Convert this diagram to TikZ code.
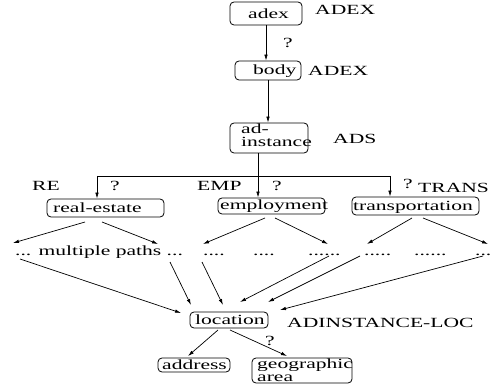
\documentclass[tikz,border=0pt]{standalone}
\usepackage{fontspec}
\setmainfont[FakeStretch=1.54]{Liberation Serif}
\usetikzlibrary{arrows.meta}
\begin{document}
\begin{tikzpicture}[x=1pt,y=-1pt,
  box/.style={draw, rounded corners=4pt, line width=0.8pt, inner sep=0pt},
  txt/.style={inner sep=0pt, anchor=base west, font=\fontsize{14}{14}\selectfont},
  arr/.style={-{Latex[length=6pt,width=3.5pt]}, line width=0.7pt},
  ln/.style={line width=0.7pt}]
\useasboundingbox (0,0) rectangle (492,387);
% boxes
\node[box, minimum width=72pt, minimum height=23pt] (adex) at (266,13.5) {};
\node[box, minimum width=66pt, minimum height=19pt] (body) at (268,70.5) {};
\node[box, minimum width=78pt, minimum height=30pt] (adinst) at (269,138) {};
\node[box, minimum width=117pt, minimum height=18pt] (re) at (105.5,208) {};
\node[box, minimum width=107pt, minimum height=16pt] (emp) at (271.5,206) {};
\node[box, minimum width=127pt, minimum height=18pt] (trans) at (415.5,206) {};
\node[box, minimum width=78pt, minimum height=16pt] (loc) at (229,320) {};
\node[box, minimum width=72pt, minimum height=14pt] (addr) at (194,365) {};
\node[box, minimum width=100pt, minimum height=25pt] (geo) at (302,370.5) {};
% box texts
\node[txt] (adexT) at (248,19) {adex};
\node[txt] (bodyT) at (253,75) {body};
\node[txt] (adT1) at (241,134) {ad-};
\node[txt] (adT2) at (241,147) {instance};
\node[txt] (reT) at (53,212.5) {real-estate};
\node[txt] (empT) at (220,209.5) {employment};
\node[txt] (transT) at (353,211) {transportation};
\node[txt] (locT) at (195,324.5) {location};
\node[txt] (addrT) at (162,369.5) {address};
\node[txt] (geoT1) at (257,368) {geographic};
\node[txt] (geoT2) at (257,381) {area};
% labels
\node[txt] (l1) at (315,15) {ADEX};
\node[txt] (l2) at (308,76) {ADEX};
\node[txt] (l3) at (333,144) {ADS};
\node[txt] (l4) at (32,191) {RE};
\node[txt] (l5) at (197,191) {EMP};
\node[txt] (l6) at (418,193) {TRANS};
\node[txt] (l7) at (287,327) {ADINSTANCE-LOC};
\node[txt] (q1) at (283,48) {?};
\node[txt] (q2) at (110,191) {?};
\node[txt] (q3) at (272,191) {?};
\node[txt] (q4) at (403,189) {?};
\node[txt] (q5) at (265,345) {?};
% dots row
\node[txt] (d0) at (15,255) {... multiple paths ...};
\node[txt] (d1) at (203,255) {....};
\node[txt] (d2) at (253,255) {....};
\node[txt] (d3) at (308,255) {......};
\node[txt] (d4) at (364,255) {.....};
\node[txt] (d5) at (414,255) {......};
\node[txt] (d6) at (475,255) {...};
% top connectors
\draw[arr] (adex.south) -- (adex.south |- body.north);
\draw[arr] (body.south) -- (body.south |- adinst.north);
\coordinate (v) at (258,153);
\draw[arr] (v) -- (v |- emp.north);
\coordinate (hl) at (97,176);
\coordinate (hr) at (390,176);
\draw[ln] (hl) -- (hr);
\draw[arr] (hl) -- (hl |- re.north);
\draw[arr] (hr) -- (hr |- trans.north);
% fan-out arrows
\coordinate (r1) at (85,222); \coordinate (r1e) at (13,243);
\coordinate (r2) at (102,222); \coordinate (r2e) at (158,244);
\coordinate (e1) at (265,218); \coordinate (e1e) at (203,244);
\coordinate (e2) at (275,218); \coordinate (e2e) at (328,244);
\coordinate (t1) at (412,218); \coordinate (t1e) at (367,244);
\coordinate (t2) at (423,218); \coordinate (t2e) at (488,244);
\draw[arr] (r1) -- (r1e);
\draw[arr] (r2) -- (r2e);
\draw[arr] (e1) -- (e1e);
\draw[arr] (e2) -- (e2e);
\draw[arr] (t1) -- (t1e);
\draw[arr] (t2) -- (t2e);
% converging arrows
\coordinate (c1) at (20,259); \coordinate (c1e) at (181,313);
\coordinate (c2) at (170,262); \coordinate (c2e) at (191,305);
\coordinate (c3) at (202,262); \coordinate (c3e) at (223,305);
\coordinate (c4) at (329,256); \coordinate (c4e) at (240,302);
\coordinate (c5) at (360,256); \coordinate (c5e) at (268,302);
\coordinate (c6) at (483,256); \coordinate (c6e) at (280,310);
\draw[arr] (c1) -- (c1e);
\draw[arr] (c2) -- (c2e);
\draw[arr] (c3) -- (c3e);
\draw[arr] (c4) -- (c4e);
\draw[arr] (c5) -- (c5e);
\draw[arr] (c6) -- (c6e);
% bottom
\coordinate (b1) at (218,330); \coordinate (b1e) at (188,356);
\coordinate (b2) at (230,330); \coordinate (b2e) at (287,356);
\draw[arr] (b1) -- (b1e);
\draw[arr] (b2) -- (b2e);
\end{tikzpicture}
\end{document}
